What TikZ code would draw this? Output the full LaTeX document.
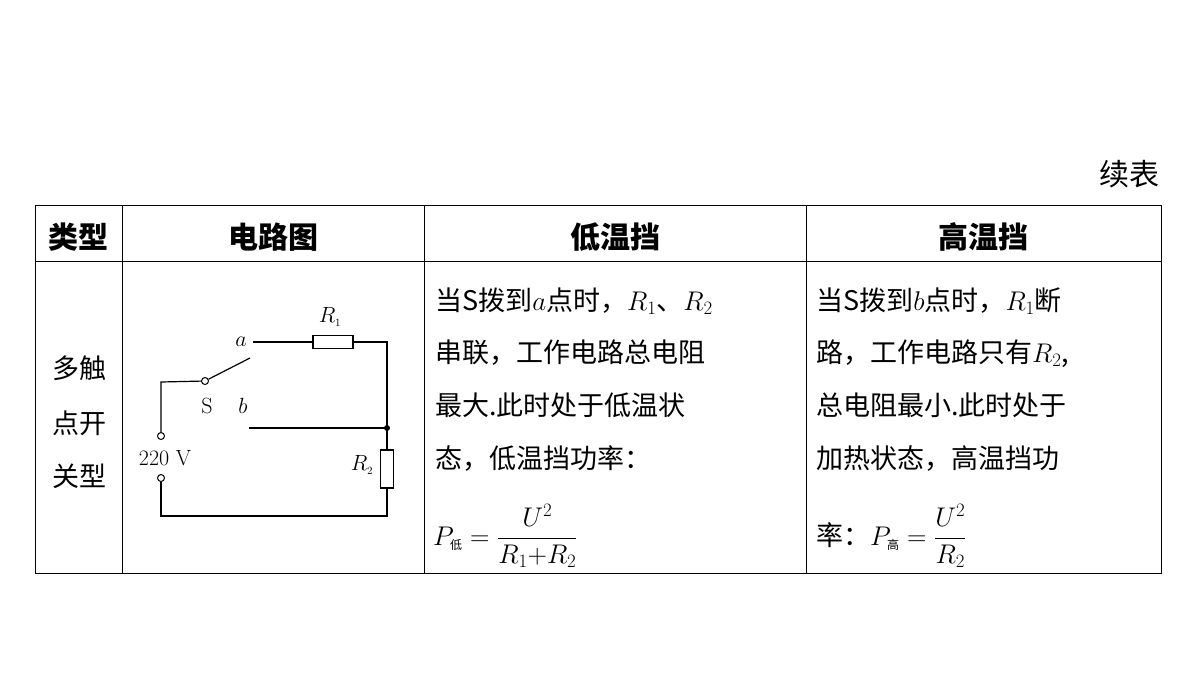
\documentclass[tikz,border=0pt]{standalone}
\usepackage{fix-cm}
\usepackage{amsmath}
\usepackage{fontspec}
\newfontfamily\cjk{Noto Sans CJK SC}
\usetikzlibrary{positioning}
\tikzset{
  cell/.style={anchor=base west, inner sep=0pt, font=\cjk\fontsize{27}{30}\selectfont},
  head/.style={inner sep=0pt, font=\cjk\bfseries\fontsize{30}{34}\selectfont},
  lab/.style={inner sep=0pt, font=\fontsize{22}{24}\selectfont},
  term/.style={circle, draw, fill=white, inner sep=0pt, minimum size=7pt, line width=1pt},
  wire/.style={line width=1.2pt}
}
\begin{document}
\begin{tikzpicture}[x=1pt,y=-1pt]
\useasboundingbox (0,0) rectangle (1200,675);
% table frame
\draw[line width=0.8pt] (35,205) rectangle (1161,573);
\draw[line width=0.8pt] (35,261) -- (1161,261);
\foreach \cx in {122,424,806} \draw[line width=0.8pt] (\cx,205) -- (\cx,573);
\node[head, anchor=east] (cont) at (1160,174) {\fontseries{m}\selectfont 续表};
% header
\node[head] (h1) at (78.5,237) {类型};
\node[head] (h2) at (273,237) {电路图};
\node[head] (h3) at (615,237) {低温挡};
\node[head] (h4) at (983,237) {高温挡};
% type column
\node[cell, anchor=center] (t1) at (79,368) {多触};
\node[cell, anchor=center] (t2) at (79,423) {点开};
\node[cell, anchor=center] (t3) at (79,476) {关型};
% circuit
\coordinate (tl) at (161,382);
\coordinate (bl) at (161,516);
\coordinate (br) at (387,516);
\coordinate (tr) at (387,342);
\node[term] (up) at (161,436) {};
\node[term] (dn) at (161,478) {};
\node[term] (piv) at (205,381) {};
\coordinate (aend) at (253,342);
\coordinate (bend) at (249,428);
\coordinate (blade) at (250,358);
\node[draw, minimum width=40pt, minimum height=13pt, inner sep=0pt, line width=1.2pt] (r1) at (333,342) {};
\node[draw, minimum width=13pt, minimum height=38pt, inner sep=0pt, line width=1.2pt] (r2) at (387,469) {};
\fill (387,428) circle (3pt) coordinate (jn);
\draw[wire] (up) -- (tl) -- (piv);
\draw[wire] (piv) -- (blade);
\draw[wire] (aend) -- (r1) -- (tr) -- (jn) -- (r2) -- (br) -- (bl) -- (dn);
\draw[wire] (bend) -- (jn);
\node[lab] (la) at (241,342) {$a$};
\node[lab] (lr1) at (330,317) {$R_{\scriptscriptstyle 1}$};
\node[lab] (ls) at (207,406) {S};
\node[lab] (lb) at (243,406) {$b$};
\node[lab] (lv) at (165,458) {220 V};
\node[lab] (lr2) at (362,465) {$R_{\scriptscriptstyle 2}$};
% low column
\node[cell] (l1) at (435,310) {当S拨到$a$点时，$R_1$、$R_2$};
\node[cell] (l2) at (435,362) {串联，工作电路总电阻};
\node[cell] (l3) at (435,415) {最大.此时处于低温状};
\node[cell] (l4) at (435,468) {态，低温挡功率：};
\node[cell] (l5) at (433,545) {$P_{\text{\cjk\fontsize{12}{12}\selectfont 低}}=\dfrac{U^2}{R_1{+}R_2}$};
% high column
\node[cell] (g1) at (816,310) {当S拨到$b$点时，$R_1$断};
\node[cell] (g2) at (816,362) {路，工作电路只有$R_2$,};
\node[cell] (g3) at (816,415) {总电阻最小.此时处于};
\node[cell] (g4) at (816,468) {加热状态，高温挡功};
\node[cell] (g5) at (816,545) {率：$P_{\text{\cjk\fontsize{12}{12}\selectfont 高}}=\dfrac{U^2}{R_2}$};
\end{tikzpicture}
\end{document}
